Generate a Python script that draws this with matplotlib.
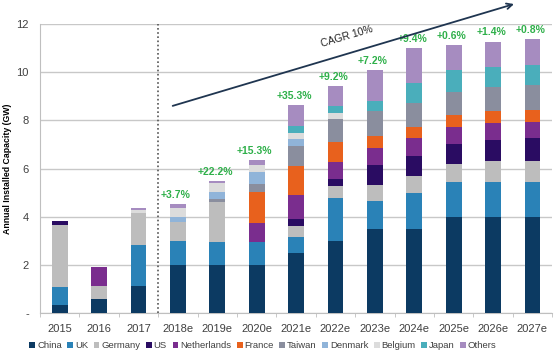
import matplotlib
matplotlib.use("Agg")
import matplotlib.pyplot as plt
import numpy as np

categories = ["2015", "2016", "2017", "2018e", "2019e", "2020e", "2021e",
              "2022e", "2023e", "2024e", "2025e", "2026e", "2027e"]
China       = [0.35, 0.58, 1.13, 2.00, 2.00, 2.00, 2.50, 3.00, 3.50, 3.50, 4.00, 4.00, 4.00]
UK          = [0.75, 0.00, 1.70, 1.00, 0.94, 0.97, 0.65, 1.77, 1.15, 1.50, 1.46, 1.46, 1.46]
Germany     = [2.55, 0.55, 1.32, 0.80, 1.69, 0.00, 0.48, 0.50, 0.68, 0.70, 0.73, 0.87, 0.87]
US          = [0.18, 0.00, 0.00, 0.00, 0.00, 0.00, 0.28, 0.32, 0.83, 0.82, 0.83, 0.86, 0.93]
Netherlands = [0.00, 0.80, 0.00, 0.00, 0.00, 0.76, 1.00, 0.70, 0.70, 0.74, 0.72, 0.69, 0.69]
France      = [0.00, 0.00, 0.00, 0.00, 0.00, 1.29, 1.20, 0.80, 0.50, 0.46, 0.48, 0.52, 0.48]
Taiwan      = [0.00, 0.00, 0.00, 0.00, 0.10, 0.34, 0.83, 0.97, 1.04, 1.02, 0.97, 1.00, 1.04]
Denmark     = [0.00, 0.00, 0.00, 0.20, 0.32, 0.51, 0.28, 0.00, 0.00, 0.00, 0.00, 0.00, 0.00]
Belgium     = [0.00, 0.00, 0.12, 0.35, 0.34, 0.28, 0.27, 0.25, 0.00, 0.00, 0.00, 0.00, 0.00]
Japan       = [0.00, 0.00, 0.00, 0.00, 0.00, 0.00, 0.28, 0.27, 0.42, 0.83, 0.90, 0.83, 0.83]
Others      = [0.00, 0.00, 0.08, 0.17, 0.11, 0.21, 0.87, 0.83, 1.28, 1.44, 1.04, 1.04, 1.06]
growth = ["", "", "", "+3.7%", "+22.2%", "+15.3%", "+35.3%", "+9.2%", "+7.2%",
          "+9.4%", "+0.6%", "+1.4%", "+0.8%"]
yticks = [0, 2, 4, 6, 8, 10, 12]
ytick_labels = ["-", "2", "4", "6", "8", "10", "12"]

series = [("China", China, "#0c3a62"), ("UK", UK, "#2a82b7"),
          ("Germany", Germany, "#bdbdbd"), ("US", US, "#2a0c62"),
          ("Netherlands", Netherlands, "#7a2d8e"), ("France", France, "#e8611d"),
          ("Taiwan", Taiwan, "#8a8e9e"), ("Denmark", Denmark, "#90b4d9"),
          ("Belgium", Belgium, "#dcdcdc"), ("Japan", Japan, "#4aaebb"),
          ("Others", Others, "#a68cc0")]

plt.rcParams['font.family'] = ['Liberation Sans', 'DejaVu Sans']
fig = plt.figure(figsize=(5.56, 3.58), dpi=100)
ax = fig.add_axes([0.072, 0.125, 0.921, 0.808])

x = np.arange(len(categories))
bottom = np.zeros(len(categories))
for name, vals, col in series:
    v = np.array(vals)
    ax.bar(x, v, width=0.4, bottom=bottom, color=col, label=name, zorder=3)
    bottom += v

for i, g in enumerate(growth):
    if g:
        ax.annotate(g, (x[i] - 0.05, bottom[i]), xytext=(0, 3), textcoords="offset points",
                    ha="center", va="bottom", color="#2fb04a", fontsize=7.5,
                    fontweight="bold")

ax.set_xlim(-0.5, len(categories) - 0.5)
ax.set_ylim(0, 12)
ax.set_yticks(yticks)
ax.set_yticklabels(ytick_labels, fontsize=8, color="#404040")
ax.set_xticks(x)
ax.set_xticklabels(categories, fontsize=8, color="#404040")
ax.set_xticks(np.arange(-0.5, len(categories), 1.0), minor=True)
ax.tick_params(axis="x", which="major", length=0, pad=8)
ax.tick_params(axis="x", which="minor", length=3, color="#bfbfbf")
ax.tick_params(axis="y", length=0, pad=8)
ax.grid(axis="y", color="#c8c8c8", linewidth=1.0, zorder=0)
for s in ["top", "right"]:
    ax.spines[s].set_visible(False)
for s in ["left", "bottom"]:
    ax.spines[s].set_color("#bfbfbf")
ax.set_ylabel("Annual Installed Capacity (GW)", fontsize=6.3, fontweight="bold",
              labelpad=3)

ax.axvline(2.5, color="#555555", linestyle=(0, (1, 1.5)), linewidth=1.2, zorder=4)

ax.annotate("", xy=(11.6, 12.86), xytext=(2.8, 8.57),
            arrowprops=dict(arrowstyle="->", color="#1f3550", lw=1.3),
            annotation_clip=False)
ax.text(7.3, 11.5, "CAGR 10%", rotation=16.6, fontsize=7.5, color="#222222",
        ha="center", va="center")

leg = fig.legend(loc="center", bbox_to_anchor=(263 / 556, 0.034), ncol=11,
                 fontsize=6.8, frameon=False, handlelength=0.6, handleheight=0.6,
                 handletextpad=0.2, columnspacing=0.6, borderpad=0)
for t in leg.get_texts():
    t.set_color("#404040")

fig.savefig("out.png", dpi=100)
